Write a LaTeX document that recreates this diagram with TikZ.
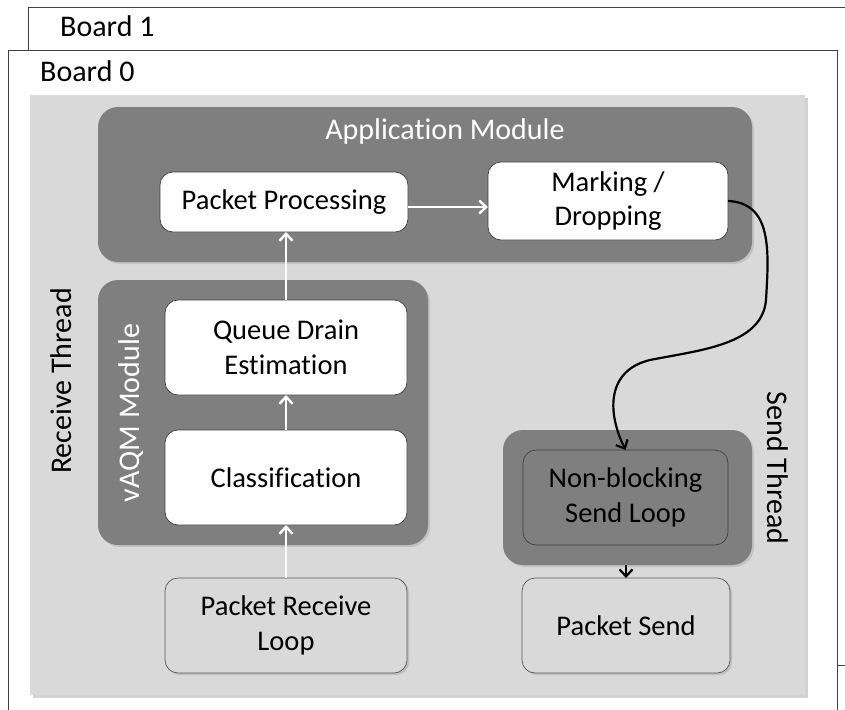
\documentclass[tikz,border=0pt]{standalone}
\usepackage{fontspec}
\setmainfont[Ligatures=NoCommon]{Carlito}
\usetikzlibrary{arrows.meta,shadows}

\definecolor{panelgray}{HTML}{D9D9D9}
\definecolor{modgray}{HTML}{7F7F7F}
\definecolor{edgegray}{HTML}{404040}

\newcommand{\boxfont}{\fontsize{28.5}{34.8}\selectfont}
\newcommand{\labelfont}{\fontsize{30}{36}\selectfont}

\tikzset{
  board/.style={draw=edgegray, fill=white, line width=0.9pt},
  panel/.style={fill=panelgray, drop shadow={shadow xshift=3pt, shadow yshift=-3pt, opacity=0.35}},
  module/.style={rectangle, fill=modgray, rounded corners=20pt, inner sep=0pt, outer sep=0pt,
                 drop shadow={shadow xshift=2pt, shadow yshift=-2pt, opacity=0.25}},
  stepbox/.style={rectangle, rounded corners=13pt, draw=edgegray, line width=0.7pt,
                  fill=white, align=center, font=\boxfont, inner sep=0pt, outer sep=0pt,
                  drop shadow={shadow xshift=2pt, shadow yshift=-2pt, opacity=0.3}},
  loopbox/.style={stepbox, fill=panelgray, draw=black!65},
  darkbox/.style={stepbox, fill=modgray, draw=edgegray},
  warrow/.style={draw=white, line width=2.4pt, -{Straight Barb[length=7pt, width=13pt]}},
  barrow/.style={draw=black, line width=2.2pt, -{Straight Barb[length=7pt, width=13pt]}},
  title/.style={font=\labelfont, inner sep=0pt}
}

\begin{document}
\begin{tikzpicture}[x=1pt, y=-1pt]
\useasboundingbox (0,0) rectangle (845,709);

% the two boards, board 1 behind board 0
\begin{scope}
\clip (0,0) rectangle (845,709);
\draw[board] (28,7) rectangle (860,665);
\node[title, anchor=west] (b1) at (60,26) {Board 1};
\draw[board] (8,50) rectangle (837,730);
\node[title, anchor=west] (b0) at (40,71) {Board 0};
\end{scope}

% light grey panel
\path[panel] (30,95) rectangle (805,695);

% thread labels
\node[title, rotate=90] (rt) at (61,381) {Receive Thread};
\node[title, rotate=-90] (st) at (778,468) {Send Thread};

% modules
\node[module, minimum width=654pt, minimum height=155pt] (app) at (425,184.5) {};
\node[title, text=white] (apptitle) at (445,132) {Application Module};
\node[module, minimum width=330pt, minimum height=265pt] (vaqm) at (263,412.5) {};
\node[title, text=white, rotate=90] (vaqmtitle) at (131,413) {vAQM Module};
\node[module, minimum width=249pt, minimum height=135pt] (sendmod) at (627.5,497.5) {};

% processing steps
\node[stepbox, minimum width=248pt, minimum height=60pt] (pp) at (284,202) {Packet Processing};
\node[stepbox, minimum width=240pt, minimum height=78pt] (md) at (608,201) {Marking /\\Dropping};
\node[stepbox, minimum width=242pt, minimum height=95pt] (qde) at (286,347.5) {Queue Drain\\Estimation};
\node[stepbox, minimum width=242pt, minimum height=95pt] (cl) at (286,477.5) {Classification};
\node[loopbox, minimum width=242pt, minimum height=95pt] (prl) at (286,625.5) {Packet Receive\\Loop};
\node[darkbox, minimum width=205pt, minimum height=95pt] (nb) at (625.5,497.5) {Non-blocking\\Send Loop};
\node[loopbox, minimum width=208pt, minimum height=95pt] (ps) at (626,625.5) {Packet Send};

% connectors
\draw[warrow] (prl.north) -- (cl.south);
\draw[warrow] (cl.north) -- (qde.south);
\draw[warrow] (qde.north) -- (qde.north |- pp.south);
\draw[warrow] (pp.east |- 0,207) -- (md.west |- 0,207);
\draw[barrow] (md.east) .. controls (772,203) and (769,250) .. (766,300)
  .. controls (762,345) and (700,350) .. (650,360)
  .. controls (608,370) and (606,410) .. (nb.north);
\draw[barrow] (ps.north |- sendmod.south) -- (ps.north);
\end{tikzpicture}
\end{document}
